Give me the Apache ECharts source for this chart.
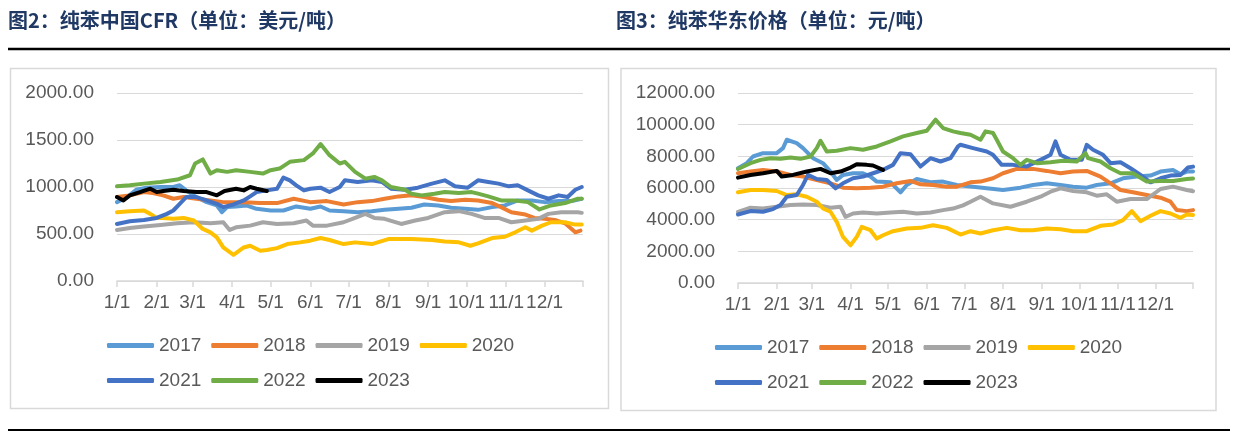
<!DOCTYPE html>
<html><head><meta charset="utf-8">
<script src="https://cdn.jsdelivr.net/npm/echarts@6/dist/echarts.min.js"></script>
<style>html,body{margin:0;padding:0;background:#fff}#c{width:1236px;height:433px}</style>
</head><body><div id="c"></div>
<script>
// ---- labels / categories ----
const years = ['2017','2018','2019','2020','2021','2022','2023'];
const colors = ['#5B9BD5','#ED7D31','#A5A5A5','#FFC000','#4472C4','#70AD47','#000000'];
const monthLengths = [31,28,31,30,31,30,31,31,30,31,30,31];
const title1 = '图2：纯苯中国CFR（单位：美元/吨）';
const title2 = '图3：纯苯华东价格（单位：元/吨）';

// ---- 图2 纯苯中国CFR (美元/吨): [dayOfYear, value] ----
const cfr2017 = [[0,839],[8,893],[15,971],[23,993],[34,1000],[44,1000],[49,1018],[54,964],[62,893],[70,839],[78,804],[82,732],[86,786],[93,793],[101,804],[109,768],[120,750],[130,750],[140,793],[151,768],[159,793],[166,750],[177,743],[188,732],[199,743],[209,757],[220,768],[230,779],[240,814],[251,804],[261,779],[272,768],[282,757],[293,786],[303,804],[313,857],[324,857],[334,839],[345,850],[355,850],[363,875]];
const cfr2018 = [[0,893],[10,911],[21,946],[28,936],[36,911],[44,875],[52,893],[62,875],[73,857],[83,839],[99,839],[112,829],[125,829],[138,875],[151,839],[164,850],[177,814],[188,839],[199,850],[209,875],[220,900],[230,911],[240,893],[251,864],[261,850],[272,864],[282,857],[293,829],[300,786],[308,732],[319,707],[326,671],[334,661],[342,650],[350,614],[358,518],[362,536]];
const cfr2019 = [[0,543],[10,564],[21,579],[34,596],[47,614],[60,625],[73,614],[83,625],[88,543],[93,571],[104,589],[114,625],[125,607],[138,614],[148,643],[153,589],[164,589],[177,625],[186,671],[194,714],[201,671],[209,661],[222,607],[233,643],[243,671],[256,732],[267,743],[277,714],[287,671],[298,671],[308,625],[319,643],[329,661],[337,714],[347,732],[360,732],[363,725]];
const cfr2020 = [[0,732],[10,743],[21,750],[26,714],[31,671],[36,671],[44,661],[52,671],[60,643],[67,554],[73,518],[78,464],[83,357],[91,279],[99,357],[104,375],[112,321],[117,329],[125,350],[133,393],[143,411],[151,429],[159,457],[166,436],[177,393],[186,411],[199,393],[212,446],[230,446],[246,436],[256,421],[267,411],[276,375],[282,400],[293,457],[303,471],[311,518],[319,571],[324,536],[332,589],[339,625],[350,625],[358,600],[363,600]];
const cfr2021 = [[0,607],[10,636],[21,650],[31,671],[39,714],[44,750],[49,821],[54,893],[62,893],[70,857],[78,821],[83,786],[91,814],[99,857],[104,900],[109,946],[117,964],[125,982],[130,1100],[135,1071],[140,1018],[146,964],[151,982],[159,993],[166,946],[174,1000],[178,1071],[188,1054],[199,1071],[207,1054],[214,982],[225,971],[235,993],[246,1036],[256,1071],[264,1007],[274,993],[282,1071],[290,1054],[298,1036],[306,1007],[313,1018],[321,964],[329,911],[337,875],[345,911],[352,893],[358,971],[363,1000]];
const cfr2022 = [[0,1007],[10,1018],[21,1036],[34,1054],[47,1079],[57,1125],[61,1250],[67,1293],[73,1143],[78,1179],[86,1161],[93,1179],[104,1161],[114,1143],[120,1179],[127,1196],[135,1268],[146,1286],[153,1357],[159,1457],[166,1339],[174,1250],[178,1268],[186,1161],[194,1089],[201,1107],[207,1071],[214,1000],[225,971],[230,929],[238,911],[248,929],[256,946],[267,936],[277,946],[282,929],[290,900],[300,857],[311,857],[321,839],[330,761],[339,804],[350,829],[360,875],[363,875]];
const cfr2023 = [[0,893],[5,857],[10,911],[18,946],[26,982],[31,946],[36,957],[44,971],[52,957],[62,946],[70,946],[78,911],[84,957],[93,982],[99,964],[104,1000],[109,982],[117,957]];

// ---- 图3 纯苯华东价格 (元/吨): [dayOfYear, value] ----
const ec2017 = [[0,7249],[7,7567],[12,7990],[20,8202],[31,8202],[36,8519],[39,9048],[47,8836],[52,8519],[60,7884],[68,7567],[74,7038],[79,6508],[84,6826],[92,6932],[100,6932],[106,6720],[111,6403],[122,6361],[130,5726],[135,6191],[143,6572],[154,6361],[164,6403],[175,6191],[188,6085],[199,5980],[212,5874],[226,6022],[236,6191],[247,6297],[258,6191],[268,6085],[279,6022],[287,6191],[298,6297],[308,6614],[319,6720],[330,6784],[338,7038],[348,7143],[354,6868],[359,7038],[364,7038]];
const ec2018 = [[0,6932],[10,7038],[20,7143],[31,7038],[42,6826],[52,6720],[63,6508],[74,6297],[84,6022],[95,5980],[106,6022],[116,6085],[127,6297],[138,6445],[146,6234],[156,6191],[167,6085],[175,6085],[186,6361],[194,6403],[204,6614],[212,6932],[223,7207],[236,7207],[247,7080],[258,6932],[268,7038],[279,7080],[290,6720],[298,6297],[306,5874],[316,5726],[327,5556],[338,5387],[346,5133],[351,4604],[359,4540],[364,4604]];
const ec2019 = [[0,4498],[10,4752],[20,4710],[31,4816],[42,4922],[52,4964],[63,4922],[74,4752],[82,4816],[86,4181],[92,4392],[100,4456],[111,4392],[122,4456],[132,4498],[143,4392],[154,4456],[164,4604],[172,4700],[180,4900],[186,5133],[194,5450],[204,5027],[218,4816],[231,5133],[242,5450],[250,5768],[258,5980],[268,5810],[279,5726],[287,5514],[295,5599],[303,5133],[314,5302],[327,5302],[338,5937],[348,6085],[359,5874],[364,5800]];
const ec2020 = [[0,5726],[10,5874],[20,5874],[31,5810],[39,5556],[47,5599],[55,5450],[63,5133],[68,4710],[74,4498],[79,3863],[84,2911],[90,2382],[95,2911],[99,3546],[106,3334],[111,2805],[116,3017],[124,3271],[135,3440],[146,3482],[156,3652],[167,3482],[178,3059],[186,3271],[194,3123],[204,3334],[215,3482],[226,3334],[236,3334],[247,3440],[258,3398],[268,3271],[279,3271],[290,3609],[300,3694],[308,3969],[315,4540],[322,3905],[330,4244],[338,4540],[346,4392],[354,4117],[359,4329],[364,4300]];
const ec2021 = [[0,4329],[10,4540],[20,4498],[28,4668],[34,4922],[39,5450],[47,5556],[52,6191],[56,6826],[63,6572],[71,6508],[78,5980],[84,6297],[92,6614],[100,6720],[108,6932],[116,7143],[124,7461],[130,8201],[138,8138],[146,7355],[154,7884],[162,7673],[170,7884],[176,8625],[178,8730],[188,8519],[199,8307],[204,8096],[211,7461],[220,7461],[231,7355],[242,7778],[250,8096],[254,8942],[258,8096],[266,7778],[275,7778],[279,8730],[284,8413],[292,8096],[298,7567],[306,7630],[314,7249],[322,6826],[330,6361],[338,6614],[346,6784],[354,6826],[360,7292],[364,7350]];
const ec2022 = [[0,7200],[10,7567],[18,7778],[26,7884],[34,7842],[42,7926],[50,7842],[58,7990],[63,8519],[66,8984],[71,8307],[79,8350],[90,8519],[100,8413],[111,8625],[122,8942],[132,9259],[143,9471],[151,9619],[158,10317],[164,9788],[172,9577],[178,9471],[186,9365],[194,9048],[198,9577],[204,9471],[207,9048],[212,8307],[220,7884],[226,7461],[231,7778],[239,7567],[250,7630],[260,7715],[271,7673],[278,8201],[280,7884],[290,7673],[298,7249],[306,6932],[316,6932],[327,6403],[338,6445],[348,6445],[359,6572],[364,6600]];
const ec2023 = [[0,6657],[10,6826],[20,6932],[31,7080],[35,6720],[44,6826],[55,7038],[66,7207],[74,6932],[82,7038],[90,7292],[95,7503],[103,7461],[108,7419],[116,7143]];

const cfrSeries = [cfr2017,cfr2018,cfr2019,cfr2020,cfr2021,cfr2022,cfr2023];
const ecSeries = [ec2017,ec2018,ec2019,ec2020,ec2021,ec2022,ec2023];

// ---- build day categories ----
const days = [];
const tickIdx = new Set();
const labelIdx = new Set();
monthLengths.forEach((len, m) => {
  for (let d = 1; d <= len; d++) {
    if (d === 1) { tickIdx.add(days.length); labelIdx.add(days.length); }
    days.push((m + 1) + '/' + d);
  }
});
tickIdx.add(days.length - 1);

const FONT = 'Liberation Sans';
const LABEL_COLOR = '#595959';
const GRID_COLOR = '#D9D9D9';

function xAxis(gi) {
  return {
    type: 'category', gridIndex: gi, data: days, boundaryGap: false,
    axisLine: { show: true, lineStyle: { color: GRID_COLOR, width: 1.5 } },
    axisTick: { show: true, interval: (i) => tickIdx.has(i), length: 6, lineStyle: { color: GRID_COLOR, width: 1.5 } },
    axisLabel: { interval: (i) => labelIdx.has(i), color: LABEL_COLOR, fontSize: 19, fontFamily: FONT, margin: 12 },
    splitLine: { show: false }
  };
}
function yAxis(gi, max, step) {
  return {
    type: 'value', gridIndex: gi, min: 0, max: max, interval: step,
    axisLine: { show: false }, axisTick: { show: false },
    axisLabel: { formatter: (v) => v.toFixed(2), color: LABEL_COLOR, fontSize: 19, fontFamily: FONT, margin: 23 },
    splitLine: { lineStyle: { color: GRID_COLOR, width: 1.2 } }
  };
}
function legend(left, top) {
  return {
    left: left, top: top, width: 420, padding: 0,
    orient: 'horizontal', icon: 'roundRect', itemWidth: 47, itemHeight: 5, itemGap: 10,
    data: years,
    textStyle: { color: LABEL_COLOR, fontSize: 19, fontFamily: FONT, lineHeight: 25 }
  };
}
function makeSeries(dataList, gi) {
  return dataList.map((d, i) => ({
    type: 'line', name: years[i], xAxisIndex: gi, yAxisIndex: gi,
    data: d, symbol: 'none', showSymbol: false,
    lineStyle: { width: 4, color: colors[i], cap: 'round', join: 'round' },
    itemStyle: { color: colors[i] },
    z: 2 + i
  }));
}

const chart = echarts.init(document.getElementById('c'), null, { renderer: 'canvas' });
chart.setOption({
  animation: false,
  backgroundColor: '#ffffff',
  grid: [
    { left: 117, top: 93, width: 466, height: 188 },
    { left: 738, top: 93, width: 455, height: 190 }
  ],
  xAxis: [xAxis(0), xAxis(1)],
  yAxis: [yAxis(0, 2000, 500), yAxis(1, 12000, 2000)],
  legend: [legend(107, 333), legend(715, 335)],
  series: makeSeries(cfrSeries, 0).concat(makeSeries(ecSeries, 1)),
  graphic: [
    { type: 'text', style: { x: 8, y: 20, text: title1, font: 'bold 20px "Noto Sans CJK SC"', fill: '#1F3864', verticalAlign: 'middle' } },
    { type: 'text', style: { x: 616, y: 20, text: title2, font: 'bold 20px "Noto Sans CJK SC"', fill: '#1F3864', verticalAlign: 'middle' } },
    { type: 'line', shape: { x1: 8, y1: 49, x2: 1230, y2: 49 }, style: { stroke: '#000', lineWidth: 2.5 } },
    { type: 'line', shape: { x1: 8, y1: 430, x2: 1230, y2: 430 }, style: { stroke: '#000', lineWidth: 2 } },
    { type: 'rect', shape: { x: 10.5, y: 68.5, width: 598, height: 340 }, style: { fill: 'none', stroke: GRID_COLOR, lineWidth: 1.5 } },
    { type: 'rect', shape: { x: 621, y: 68.5, width: 595, height: 342 }, style: { fill: 'none', stroke: GRID_COLOR, lineWidth: 1.5 } }
  ]
});
</script>
</body></html>
